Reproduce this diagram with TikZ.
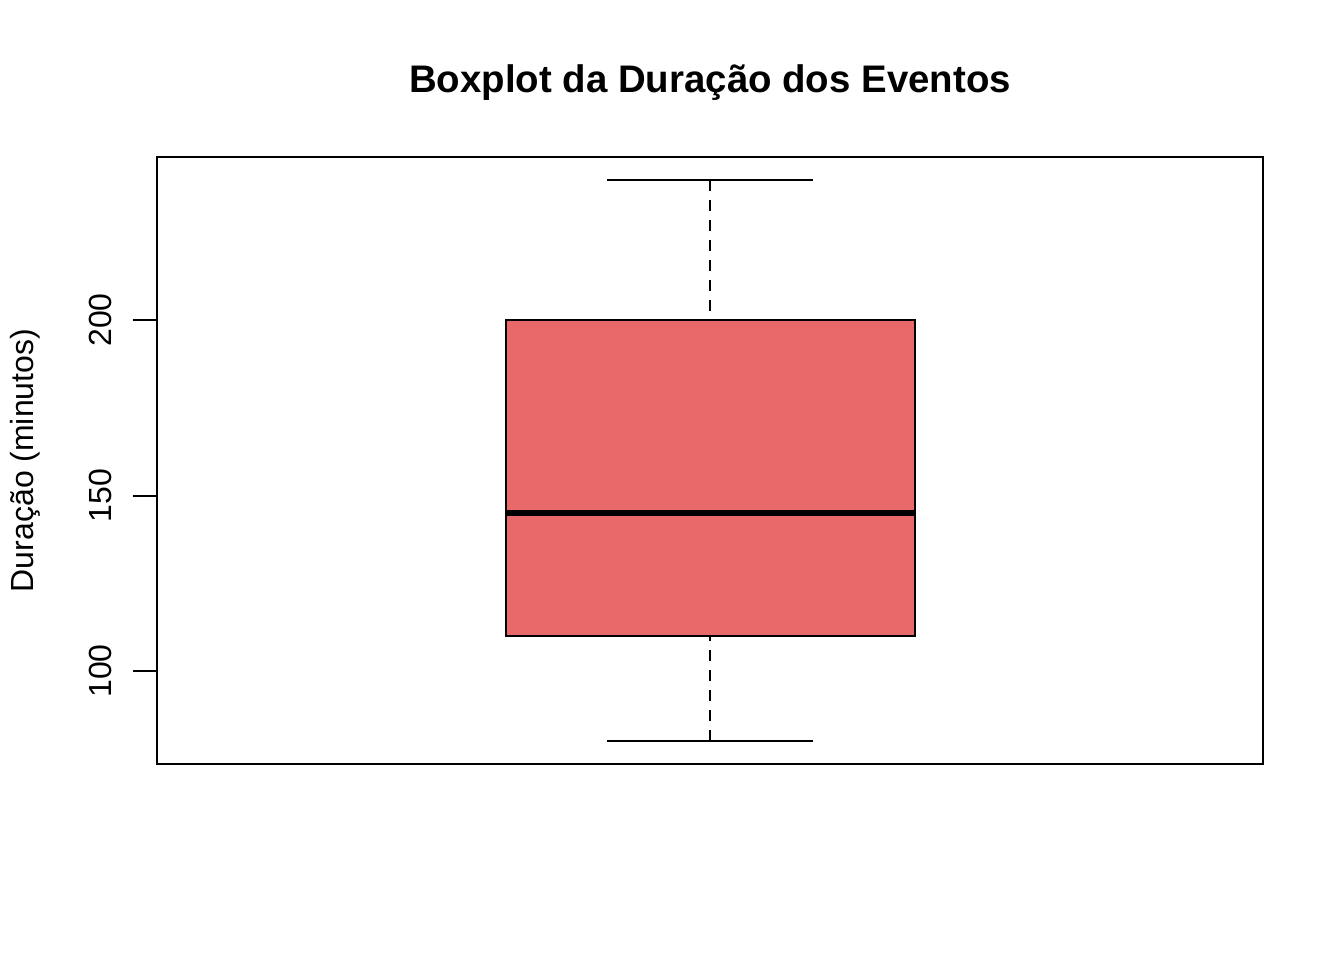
\documentclass[tikz,border=0pt]{standalone}
\usepackage{fontspec}
\setmainfont{Liberation Sans}
\definecolor{boxfill}{HTML}{E9696B}
\begin{document}
\begin{tikzpicture}[x=0.375pt,y=0.375pt,
  axis/.style={line width=0.75pt, line cap=rect},
  whisk/.style={line width=0.75pt, dash pattern=on 4.1pt off 3.4pt},
  capline/.style={line width=0.75pt},
  ticklab/.style={font=\fontsize{12}{14}\selectfont, rotate=90, inner sep=0pt},
]
\useasboundingbox (0,0) rectangle (1344,960);
% plot frame (y = 960 - pixel row)
\draw[axis] (157,196) rectangle (1263,803);
% whiskers
\coordinate (wt) at (710,780);
\coordinate (qt) at (710,640);
\coordinate (wb) at (710,219);
\coordinate (qb) at (710,324);
\draw[whisk] (wt) -- (qt);
\draw[whisk] (wb) -- (qb);
\draw[capline] (607,780) -- (813,780);
\draw[capline] (607,219) -- (813,219);
% box
\draw[line width=0.75pt, fill=boxfill] (506,324) rectangle (915,640);
\draw[line width=2.25pt] (506,447) -- (915,447);
% y axis ticks
\draw[capline] (157,640) -- (133,640);
\draw[capline] (157,464.5) -- (133,464.5);
\draw[capline] (157,289) -- (133,289);
\draw[capline] (157,640) -- (157,289);
\node[ticklab] (t200) at (100,640) {200};
\node[ticklab] (t150) at (100,464.5) {150};
\node[ticklab] (t100) at (100,289) {100};
% labels
\node[ticklab] (ylab) at (25,499.5) {Duração (minutos)};
\node[font=\bfseries\fontsize{14.4}{17}\selectfont, inner sep=0pt] (title) at (710,877) {Boxplot da Duração dos Eventos};
\end{tikzpicture}
\end{document}
